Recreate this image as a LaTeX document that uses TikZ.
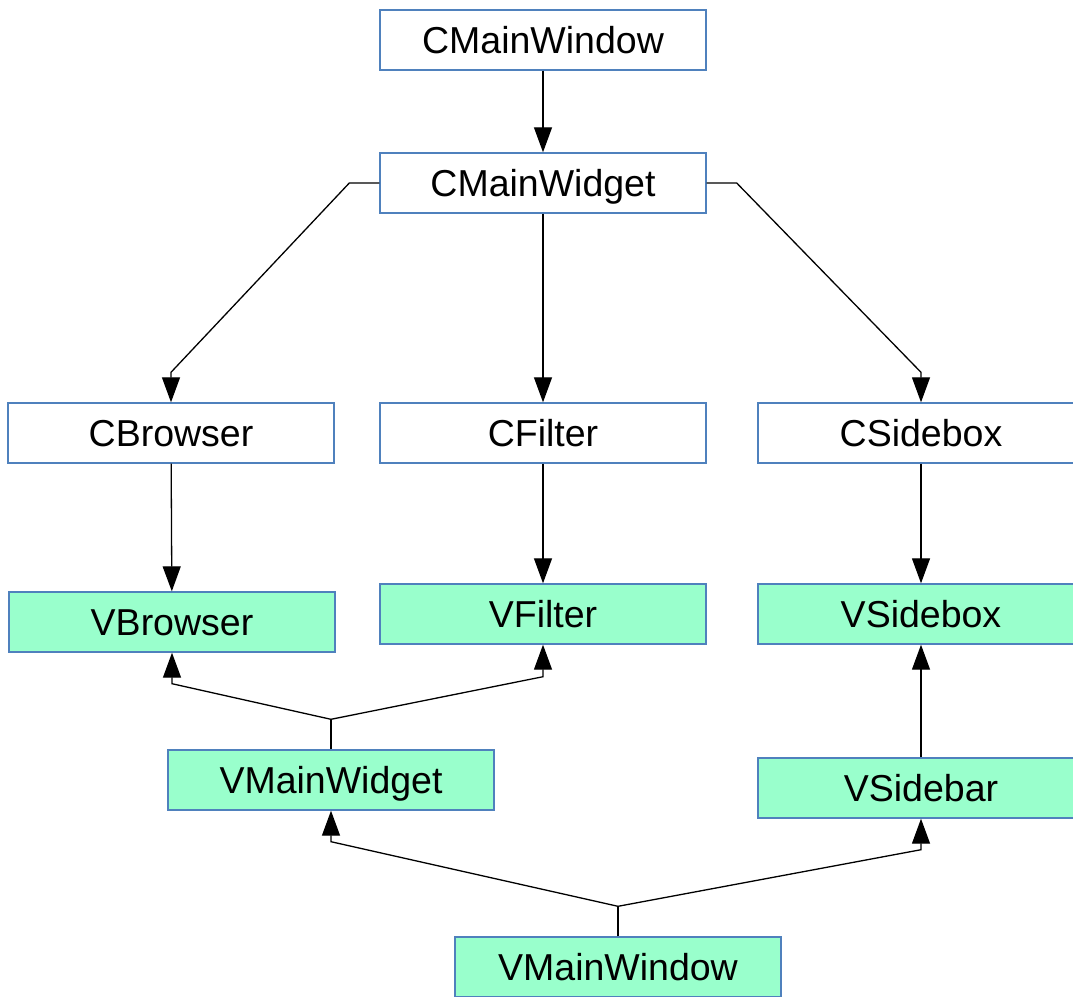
\documentclass[tikz,border=0pt]{standalone}
\usepackage{fontspec}
\setmainfont{Liberation Sans}
\usetikzlibrary{arrows.meta,calc}
\definecolor{boxline}{HTML}{4F81BD}
\definecolor{viewfill}{HTML}{99FFCC}
\tikzset{
  cls/.style={draw=boxline, line width=1.4pt, fill=white, minimum width=326pt,
    minimum height=60pt, inner sep=0pt, text height=26.9pt, text depth=0pt,
    font=\fontsize{37.5}{45}\selectfont},
  view/.style={cls, fill=viewfill},
  link/.style={line width=1.3pt, draw=black},
  arr/.style={link, -{Triangle[length=25pt,width=18pt]}},
}
\begin{document}
\begin{tikzpicture}[x=1pt, y=-1pt]
  \useasboundingbox (0,0) rectangle (1073,996);
  \clip (0,0) rectangle (1073,996);
  % controller classes
  \node[cls] (cmwin) at (543,40) {CMainWindow};
  \node[cls] (cmwid) at (543,183) {CMainWidget};
  \node[cls] (cbr) at (171,433) {CBrowser};
  \node[cls] (cfi) at (543,433) {CFilter};
  \node[cls] (csb) at (921,433) {CSidebox};
  % view classes
  \node[view] (vbr) at (172,622) {VBrowser};
  \node[view] (vfi) at (543,614) {VFilter};
  \node[view] (vsb) at (921,614) {VSidebox};
  \node[view] (vmwid) at (331,780) {VMainWidget};
  \node[view] (vsbar) at (921,788) {VSidebar};
  \node[view] (vmwin) at (618,967) {VMainWindow};
  % ownership links
  \draw[arr] (cmwin) -- (cmwid);
  \draw[arr] (cmwid.west) -- ++(-30,0) -- ($(cbr.north)+(0,-30)$) -- (cbr.north);
  \draw[arr] (cmwid.east) -- ++(30,0) -- ($(csb.north)+(0,-30)$) -- (csb.north);
  \draw[arr] (cmwid) -- (cfi);
  \draw[arr] (cbr) -- (vbr);
  \draw[arr] (cfi) -- (vfi);
  \draw[arr] (csb) -- (vsb);
  % view composition
  \coordinate (j1) at ($(vmwid.north)+(0,-30)$);
  \draw[link] (vmwid.north) -- (j1);
  \draw[arr] (j1) -- ($(vbr.south)+(0,31)$) -- (vbr.south);
  \draw[arr] (j1) -- ($(vfi.south)+(0,32)$) -- (vfi.south);
  \draw[arr] (vsbar) -- (vsb);
  \coordinate (j2) at ($(vmwin.north)+(0,-30)$);
  \draw[link] (vmwin.north) -- (j2);
  \draw[arr] (j2) -- ($(vmwid.south)+(0,31)$) -- (vmwid.south);
  \draw[arr] (j2) -- ($(vsbar.south)+(0,31)$) -- (vsbar.south);
\end{tikzpicture}
\end{document}
